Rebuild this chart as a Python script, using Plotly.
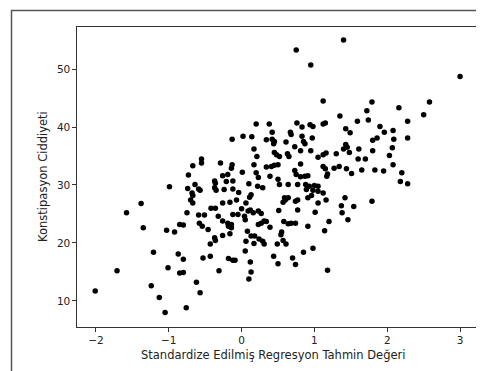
import plotly.graph_objects as go

# Standardized predicted value (x) and constipation severity (y)
x_pred = [
    0.75, 0.95, 1.12, 1.40, 1.79, 2.58, 2.16, 1.72, 3.00, 2.50, 1.35,
    -0.55, -0.55, -0.67, -0.73, -0.99, -0.74, -0.64, -0.59, -0.57, -0.68, -0.67, -0.70, -0.67,
    -1.38, -1.58, -0.75, -0.59, -0.51,
    0.76, 0.83, 0.94, 0.98, 1.12, 1.15, 0.20, 0.38, 0.42, 0.67, 0.68, 0.83, 0.97, -0.13, 0.02,
    0.14, 0.34, 0.42, 0.45, 0.44, 0.61, 0.85, 0.87, 0.17, 0.21, 0.45, 0.48, 0.52, 0.63, 0.65,
    0.73, 0.81, 0.95, 1.05, 1.12, 1.16, 1.30, 1.43, 1.40, 1.45, -0.29, -0.13, -0.14, 0.17, 0.34,
    0.41, 0.45, 0.50, 0.81, 0.73, 0.75, 0.81, 0.87, 0.91, 1.12, 1.15, 1.18, 1.17, 1.27, 1.34,
    1.44, 0.01, 0.20, 0.23, -0.26, -0.19, 0.39, 0.50, -0.37, -0.36, -0.21, -0.12, 0.10, 0.22,
    0.29, 0.52, 0.64, 0.77, 0.88, 0.93, 1.00, 1.05, 0.89, 0.98, 1.05, 1.12, -0.37, -0.35, -0.24,
    -0.12, -0.04, 0.13, 0.11, 0.59, 0.64, 0.74, 0.77, 0.91, 0.96, 1.05, 1.16, 1.42, 0.57, 0.60,
    -0.26, -0.16, -0.07, 0.06, -0.42, -0.36, 0.00, 0.09, 0.12, 0.16, 0.23, 0.27, 0.51, 0.77,
    1.01, 1.37, 1.38, -0.32, -0.12, -0.05, 0.04,
    1.59, 1.74, 2.28, 1.43, 1.49, 1.90, 1.96, 2.08, 1.86, 1.80, 2.09, 2.28, 1.61, 1.80, 2.07,
    1.48, 2.03, 1.60, 1.70, 2.08, 1.51, 1.65, 1.83, 1.95, 2.20, 2.18, 2.28, 1.79, 1.54, 1.46,
    -1.35, -1.03, -0.92, -0.85, -0.80, -0.58, -0.54, -0.46, -0.43, -0.43, -0.53, -1.21, -0.87,
    -0.80, -1.71, -1.01, -0.85, -0.80, -2.01, -1.24, -1.13, -0.62, -0.57, -0.76, -1.05,
    -0.26, -0.19, -0.14, -0.18, -0.14, -0.37, -0.36, -0.26, -0.16, -0.31, -0.18, -0.12, -0.09,
    0.05, 0.08, 0.06, 0.05, 0.12, 0.13, 0.10, 0.13, 0.18, 0.17, 0.24, 0.29, 0.31, 0.23, 0.27,
    0.31, 0.34, 0.39, 0.55, 0.54, 0.49, 0.57, 0.61, 0.58, 0.64, 0.68, 0.74, 0.91, 0.44, 0.50,
    0.70, 0.74, 0.85, 0.98, 1.18, 1.14, 1.20,
]
y_sev = [
    53.3, 50.7, 44.5, 55.0, 44.3, 44.3, 43.3, 42.8, 48.7, 42.1, 41.9,
    34.5, 33.8, 33.3, 31.7, 29.7, 29.4, 30.1, 29.3, 29.1, 28.6, 28.2, 27.4, 26.9,
    26.8, 25.2, 25.2, 24.8, 24.8,
    40.7, 40.0, 40.4, 40.1, 40.5, 40.7, 40.5, 40.5, 39.1, 39.1, 38.7, 38.4, 38.1, 37.9, 38.4,
    38.3, 37.8, 37.9, 37.5, 37.1, 37.4, 37.5, 37.1, 36.2, 34.9, 35.6, 35.2, 34.9, 35.4, 34.9,
    36.6, 35.9, 35.9, 34.8, 35.2, 35.5, 35.4, 37.0, 36.2, 36.5, 33.8, 33.5, 32.9, 33.5, 33.1,
    33.2, 33.4, 33.5, 33.6, 32.5, 31.8, 31.4, 31.5, 31.6, 33.2, 32.8, 31.9, 31.5, 32.9, 33.2,
    32.8, 32.2, 32.1, 31.3, 31.6, 31.8, 31.5, 31.0, 30.7, 30.3, 30.6, 30.7, 30.2, 29.8,
    29.5, 30.1, 30.1, 30.1, 30.1, 29.8, 29.9, 29.8, 29.2, 29.1, 28.9, 28.6, 29.5, 29.1, 29.2,
    29.3, 28.7, 28.3, 27.9, 27.8, 27.8, 27.2, 27.4, 27.8, 28.2, 26.9, 27.4, 27.8, 27.0, 27.4,
    26.9, 27.0, 27.4, 26.9, 26.0, 26.0, 25.9, 25.5, 25.7, 25.2, 25.5, 25.1, 25.6, 25.7,
    25.3, 26.4, 25.2, 24.6, 24.9, 24.9, 24.6,
    41.0, 41.2, 41.0, 39.7, 39.0, 40.1, 39.1, 39.4, 38.1, 37.7, 37.9, 38.1, 36.2, 35.9, 36.4,
    35.6, 35.1, 34.5, 34.5, 33.5, 32.0, 32.6, 32.6, 32.4, 32.1, 30.6, 30.2, 27.2, 26.3, 24.0,
    22.6, 22.2, 21.9, 23.2, 23.1, 23.4, 22.9, 22.3, 19.8, 17.7, 17.4, 18.4, 18.1,
    17.2, 15.2, 15.7, 14.8, 14.9, 11.7, 12.6, 10.6, 13.2, 11.4, 8.8, 8.0,
    23.8, 23.4, 23.2, 22.9, 22.6, 20.9, 20.4, 21.3, 21.6, 15.2, 17.3, 17.0, 17.0,
    24.0, 22.0, 20.3, 18.6, 16.7, 15.0, 13.8, 21.2, 21.2, 19.9, 20.7, 20.3, 19.8, 23.2, 23.4,
    23.8, 23.7, 22.7, 21.9, 21.4, 19.8, 20.4, 19.8, 23.7, 23.3, 23.4, 23.4, 22.9, 17.7, 16.4,
    17.4, 16.3, 18.4, 19.1, 15.3, 22.1, 23.7,
]

x_ticks = [-2, -1, 0, 1, 2, 3]
x_tick_text = ["\u22122", "\u22121", "0", "1", "2", "3"]
y_ticks = [10, 20, 30, 40, 50]
y_tick_text = ["10", "20", "30", "40", "50"]
x_title = "Standardize Edilmiş Regresyon Tahmin Değeri"
y_title = "Konstipasyon Ciddiyeti"

fig = go.Figure(
    go.Scatter(
        x=x_pred, y=y_sev, mode="markers",
        marker=dict(color="black", size=5.5, line=dict(width=0)),
        hoverinfo="skip",
    )
)

axis_common = dict(
    showline=True, mirror=True, linecolor="#333", linewidth=1.2,
    ticks="outside", ticklen=3.5, tickwidth=1, tickcolor="#333",
    showgrid=False, zeroline=False,
    tickfont=dict(family="DejaVu Sans", size=10.5, color="#222"),
)

fig.update_xaxes(range=[-2.26, 3.26], tickvals=x_ticks, ticktext=x_tick_text, **axis_common)
fig.update_yaxes(range=[5.5, 57.25], tickvals=y_ticks, ticktext=y_tick_text, **axis_common)

fig.update_layout(
    width=484, height=371,
    margin=dict(l=69, r=13, t=19, b=52),
    paper_bgcolor="white", plot_bgcolor="white",
    showlegend=False,
    annotations=[
        dict(text=x_title, xref="paper", yref="paper", x=0.488, y=-0.093,
             xanchor="center", yanchor="middle", showarrow=False,
             font=dict(family="DejaVu Sans", size=11.5, color="#222")),
        dict(text=y_title, xref="paper", yref="paper", x=-0.085, y=0.503,
             xanchor="center", yanchor="middle", showarrow=False, textangle=-90,
             font=dict(family="DejaVu Sans", size=11.5, color="#222")),
    ],
    shapes=[
        dict(type="rect", xref="paper", yref="paper",
             x0=(3.5 - 69) / 402, x1=(481.5 - 69) / 402,
             y0=(319 - 367.5) / 300, y1=(319 - 2.5) / 300,
             line=dict(color="#555", width=1.5), fillcolor="rgba(0,0,0,0)", layer="below"),
    ],
)

fig.write_html("out.html")
